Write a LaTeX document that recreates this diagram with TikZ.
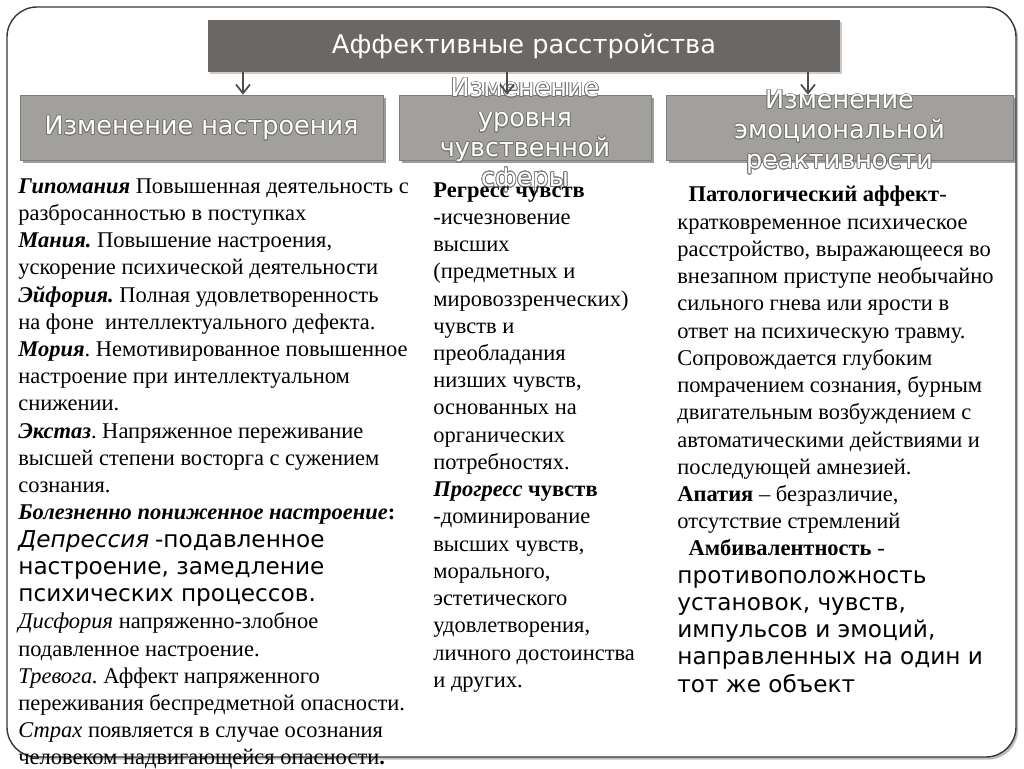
\documentclass[tikz,border=0pt]{standalone}
\usepackage{fontspec}
\setmainfont{Liberation Serif}
\newfontfamily\dvsans{DejaVu Sans}
\usepackage[copies]{contour}
\contourlength{0.45pt}
\usetikzlibrary{arrows.meta,shadows}

\definecolor{bannergray}{RGB}{106,103,101}
\definecolor{boxgray}{RGB}{162,160,157}
\definecolor{edgegray}{RGB}{128,126,124}
\definecolor{framegray}{RGB}{55,55,55}
\definecolor{halogray}{RGB}{120,118,116}

\newcommand\pxl{0.02cm}
\newcommand\sansbody{\dvsans\fontsize{13.2pt}{15.5pt}\selectfont}
\newcommand\hl[1]{\contour{halogray}{#1}}

\tikzset{
  banner/.style = {fill = bannergray, text = white, inner sep = 0pt,
    font = \dvsans\fontsize{14.6pt}{17pt}\selectfont,
    drop shadow = {shadow xshift = 1pt, shadow yshift = -1pt, opacity = 0.4}},
  topic/.style = {fill = boxgray, draw = edgegray, inner sep = 0pt, minimum height = 65*\pxl,
    drop shadow = {shadow xshift = 1.5pt, shadow yshift = -1.5pt, fill = black!70, opacity = 0.55}},
  topictext/.style = {text = white, align = center, inner sep = 0pt, yshift = -0.1cm,
    font = \dvsans\fontsize{14.5pt}{17pt}\selectfont},
  column/.style = {anchor = north west, align = left, inner sep = 0pt,
    font = \fontsize{12.8pt}{15.5pt}\selectfont\frenchspacing},
  link/.style = {draw = black!70, line width = 1pt,
    -{Straight Barb[length = 5pt, width = 8pt]}}
}

\begin{document}
\begin{tikzpicture}[x = \pxl, y = -\pxl]
    \useasboundingbox (0,0) rectangle (1024,768);
    \draw[framegray, line width = 0.8pt, rounded corners = 30*\pxl,
        drop shadow = {shadow xshift = 1.2pt, shadow yshift = -1.5pt, opacity = 0.5}, fill = white]
        (7,7) rectangle (1016,757);

    \node[banner, minimum width = 632*\pxl, minimum height = 52*\pxl] (head) at (524,46) {Аффективные расстройства};

    \node[topic, minimum width = 363*\pxl, label = {[topictext, yshift = 0.08cm]center:{\hl{Изменение настроения}}}]
        (mood) at (201.5,127.5) {};
    \node[topic, minimum width = 252*\pxl,
        label = {[topictext, yshift = -0.06cm]center:{\hl{Изменение}\\ \hl{уровня}\\ \hl{чувственной}\\ \hl{сферы}}}]
        (sense) at (525,127.5) {};
    \node[topic, minimum width = 347*\pxl,
        label = {[topictext]center:{\hl{Изменение}\\ \hl{эмоциональной}\\ \hl{реактивности}}}]
        (react) at (839.5,127.5) {};

    \coordinate (a1) at (243,72);
    \coordinate (a2) at (507,72);
    \coordinate (a3) at (808,72);
    \draw[link] (a1) -- (a1 |- mood.north);
    \draw[link] (a2) -- (a2 |- sense.north);
    \draw[link] (a3) -- (a3 |- react.north);

    \node[column] (left) at (18,178) {%
        \textbf{\textit{Гипомания}} Повышенная деятельность с\\
        разбросанностью в поступках\\
        \textbf{\textit{Мания.}} Повышение настроения,\\
        ускорение психической деятельности\\
        \textbf{\textit{Эйфория.}} Полная удовлетворенность\\
        на фоне\ \ интеллектуального дефекта.\\
        \textbf{\textit{Мория}}. Немотивированное повышенное\\
        настроение при интеллектуальном\\
        снижении.\\
        \textbf{\textit{Экстаз}}. Напряженное переживание\\
        высшей степени восторга с сужением\\
        сознания.\\
        \textbf{\textit{Болезненно пониженное настроение}}\textbf{:}\\
        {\sansbody\itshape Депрессия} {\sansbody -подавленное}\\
        {\sansbody настроение, замедление}\\
        {\sansbody психических процессов.}\\
        \textit{Дисфория} напряженно-злобное\\
        подавленное настроение.\\
        \textit{Тревога.} Аффект напряженного\\
        переживания беспредметной опасности.\\
        \textit{Страх} появляется в случае осознания\\
        человеком надвигающейся опасности\textbf{.}};

    \node[column] (mid) at (433,182) {%
        \textbf{Регресс чувств}\\
        -исчезновение\\
        высших\\
        (предметных и\\
        мировоззренческих)\\
        чувств и\\
        преобладания\\
        низших чувств,\\
        основанных на\\
        органических\\
        потребностях.\\
        \textbf{\textit{Прогресс}} \textbf{чувств}\\
        -доминирование\\
        высших чувств,\\
        морального,\\
        эстетического\\
        удовлетворения,\\
        личного достоинства\\
        и других.};

    \node[column] (right) at (677,186) {%
        \ \ \textbf{Патологический аффект}-\\
        кратковременное психическое\\
        расстройство, выражающееся во\\
        внезапном приступе необычайно\\
        сильного гнева или ярости в\\
        ответ на психическую травму.\\
        Сопровождается глубоким\\
        помрачением сознания, бурным\\
        двигательным возбуждением с\\
        автоматическими действиями и\\
        последующей амнезией.\\
        \textbf{Апатия} -- безразличие,\\
        отсутствие стремлений\\
        \ \ \textbf{Амбивалентность} -\\
        {\sansbody противоположность}\\
        {\sansbody установок, чувств,}\\
        {\sansbody импульсов и эмоций,}\\
        {\sansbody направленных на один и}\\
        {\sansbody тот же объект}};
\end{tikzpicture}
\end{document}
